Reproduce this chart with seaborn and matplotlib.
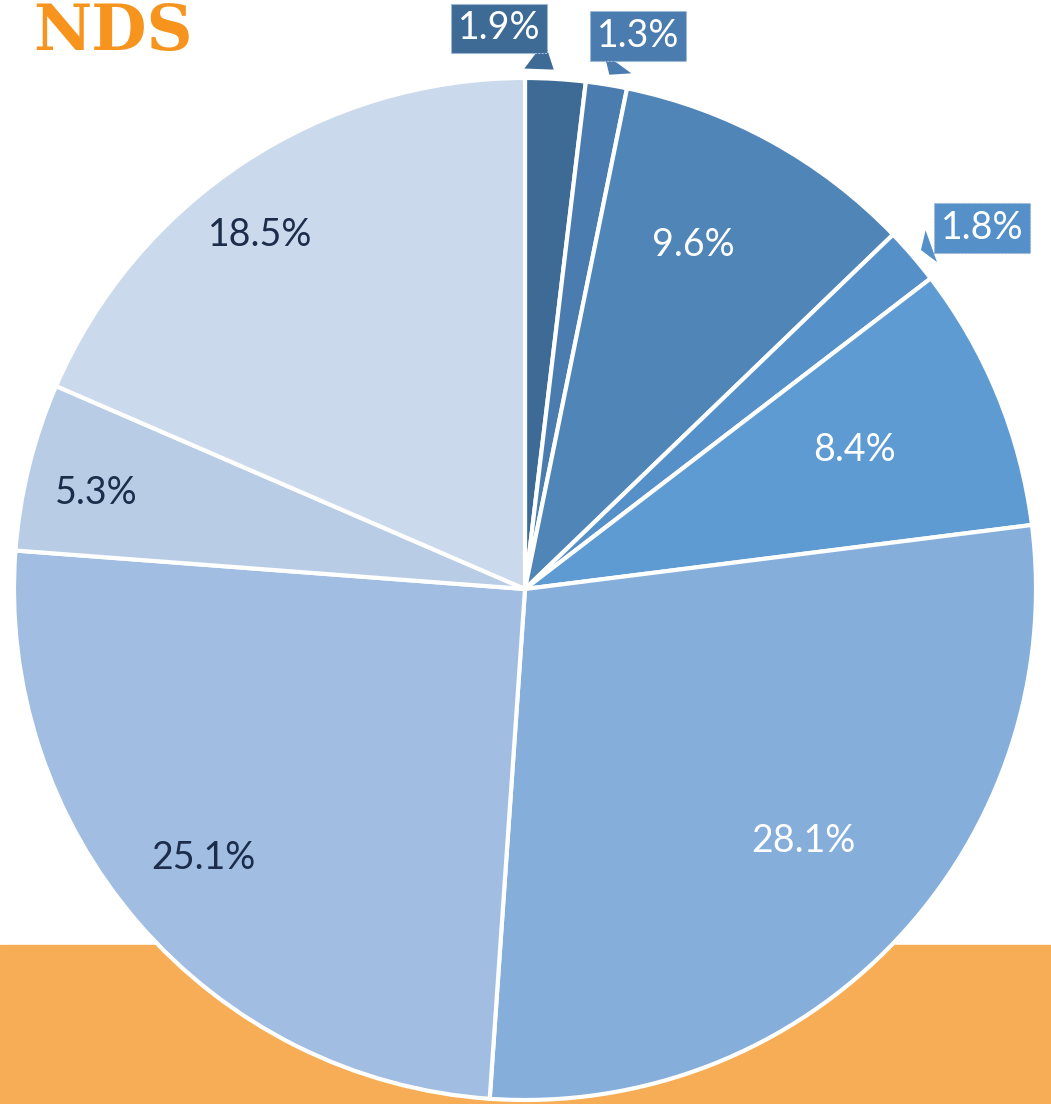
import matplotlib
matplotlib.use("Agg")
import matplotlib.pyplot as plt
import seaborn as sns
import numpy as np

# slice shares, clockwise from 12 o'clock
shares = [1.9, 1.3, 9.6, 1.8, 8.4, 28.1, 25.1, 5.3, 18.5]
pct_labels = ["1.9%", "1.3%", "9.6%", "1.8%", "8.4%", "28.1%", "25.1%", "5.3%", "18.5%"]
slice_colors = ["#3e6b95", "#4a7caf", "#5085b8", "#5590c8", "#5d9bd2",
                "#85aedb", "#a1bde2", "#b8cce6", "#cbd9ec"]
text_colors = ["white"] * 6 + ["#1b2d4b"] * 3
title_text = "NDS"

# small slices get a callout box instead of an inside label (offsets in px)
callout_offsets = {0: (-57, 43), 1: (30, 41), 3: (64, 23)}
# inside labels: (fraction of radius, angle nudge in degrees)
inside_pos = {2: (0.75, 2.7), 4: (0.70, 0.5), 5: (0.735, 1.3),
              6: (0.82, -1.0), 7: (0.86, 1.3), 8: (0.865, 3.5)}

sns.set_theme(style="white")
plt.rcParams['font.family'] = ['Lato', 'DejaVu Sans']

W, H = 1051, 1104
fig = plt.figure(figsize=(W / 100, H / 100), dpi=100)
ax = fig.add_axes([0, 0, 1, 1])

# orange band behind the bottom of the pie
ax.axhspan(0, 159, color="#f7ad55", zorder=0)

cx, cy, R = 525, 515, 511
wedges, _ = ax.pie(shares, colors=slice_colors, startangle=90, counterclock=False,
                   center=(cx, cy), radius=R,
                   wedgeprops=dict(edgecolor="white", linewidth=3))
for w in wedges:
    w.set_zorder(2)

ax.set_xlim(0, W)
ax.set_ylim(0, H)
ax.set_aspect("equal")
ax.axis("off")

for i, w in enumerate(wedges):
    mid_deg = (w.theta1 + w.theta2) / 2
    if i in callout_offsets:
        mid = np.deg2rad(mid_deg)
        xy = (cx + 1.015 * R * np.cos(mid), cy + 1.015 * R * np.sin(mid))
        ax.annotate(pct_labels[i], xy=xy, xytext=callout_offsets[i],
                    textcoords="offset pixels", ha="center", va="center",
                    fontsize=27, color="white", zorder=5,
                    bbox=dict(boxstyle="square,pad=0.18", fc=slice_colors[i],
                              ec="#9db8d6", lw=0.8, ls=(0, (2, 1))),
                    arrowprops=dict(arrowstyle="wedge,tail_width=0.9,shrink_factor=0.5",
                                    fc=slice_colors[i], ec="none"))
    else:
        frac, nudge = inside_pos[i]
        mid = np.deg2rad(mid_deg + nudge)
        d = frac * R
        ax.text(cx + d * np.cos(mid), cy + d * np.sin(mid), pct_labels[i],
                ha="center", va="center", fontsize=27, color=text_colors[i], zorder=5)

fig.text(193 / W, 1 - 50 / H, title_text, ha="right", va="baseline",
         fontsize=46, fontweight="bold", family=["DejaVu Serif"], color="#f7941d")

fig.savefig("out.png", dpi=100)
